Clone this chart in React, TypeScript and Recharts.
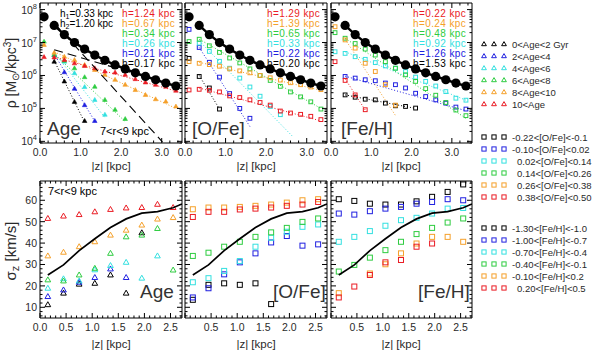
import React from 'react';
import { ScatterChart, Scatter, XAxis, YAxis } from 'recharts';

const FONT = '"Liberation Sans", Arial, Helvetica, sans-serif';
const INK = '#2a2a2a';

const RED = '#ea1c24';
const ORANGE = '#f5a02a';
const GREEN = '#2ecc40';
const CYAN = '#33e0e0';
const BLUE = '#2020e0';
const BLACK = '#000';
// every group below is listed lowest bin first: black, blue, cyan, green, orange, red
const binColors = [BLACK, BLUE, CYAN, GREEN, ORANGE, RED];

// ---------- top row: log10(rho / Msun kpc^-3) against |z| (kpc)
const rhoZ = [0.1, 0.35, 0.6, 0.85, 1.1, 1.35, 1.6, 1.85, 2.1, 2.35, 2.6, 2.85, 3.1, 3.35];
const rhoTotal = [7.78, 7.52, 7.24, 7.0, 6.8, 6.62, 6.46, 6.32, 6.2, 6.08, 5.97, 5.87, 5.77, 5.68];
// two-exponential decomposition of the total (dashed), [z0, v0, z1, v1]
const thinDisc = [0.35, 7.59, 3.02, 3.98];
const thickDisc = [0.35, 6.78, 3.35, 5.69];

const ageRho = [
  [null, 6.42, 5.82, 5.2, 4.62],
  [null, 6.62, 6.1, 5.6, 5.1, 4.62],
  [null, 6.65, 6.42, 6.07, 5.65, 5.26, 4.81],
  [7.03, 6.62, 6.45, 6.22, 5.95, 5.66, 5.26, 4.96, 4.68],
  [6.93, 6.69, 6.57, 6.47, 6.32, 6.17, 6.02, 5.87, 5.72, 5.56, 5.41, 5.28, 5.21, 5.06],
  [6.56, 6.55, 6.47, 6.37, 6.29, 6.22, 6.12, 6.09, 6.02, 5.89, 5.79, 5.72, 5.66, 5.54],
];
const ageRhoFits = [
  [0.35, 6.45, 1.1, 4.58],
  [0.35, 6.65, 1.38, 4.55],
  [0.35, 6.7, 1.6, 4.72],
  [0.35, 6.66, 2.1, 4.6],
  [0.35, 6.72, 3.35, 5.0],
  [0.35, 6.56, 3.35, 5.53],
];
const ageH = ['0.17', '0.21', '0.26', '0.34', '0.67', '1.24'];

const ofeRho = [
  [6.52, 5.97, 5.62, 4.98],
  [7.4, 6.85, 6.4, 5.95, 5.45, 5.0, 4.7],
  [null, 6.98, 6.73, 6.43, 6.22, 5.92, 5.65, 5.37, 5.06, 4.81],
  [7.03, 7.1, 6.9, 6.7, 6.53, 6.38, 6.2, 6.0, 5.85, 5.67, 5.5, 5.35, 5.2, 4.98],
  [6.42, 6.37, 6.33, 6.28, 6.2, 6.14, 6.08, 6.0, 5.93, 5.86, 5.78, 5.72, 5.65, 5.57],
  [5.56, 5.58, 5.55, 5.5, 5.38, 5.33, 5.26, 5.18, 5.1, 4.92, 4.86, 4.82, 4.76, 4.66],
];
const ofeRhoFits = [
  [0.35, 6.0, 0.85, 4.98],
  [0.35, 6.85, 1.6, 4.45],
  [0.35, 7.05, 2.66, 4.14],
  [0.35, 7.1, 3.35, 5.0],
  [0.35, 6.4, 3.35, 5.55],
  [0.35, 5.62, 3.35, 4.62],
];
const ofeH = ['0.20', '0.22', '0.33', '0.65', '1.39', '1.29'];

const fehRho = [
  [null, 5.41, 5.34, 5.28, 5.26, 5.16, 5.08, 5.06, 5.01],
  [null, 5.97, 5.92, 5.87, 5.84, 5.77, 5.72, 5.62, 5.46, 5.36, 5.26, 5.16, 5.04, 4.98],
  [6.72, 6.67, 6.57, 6.49, 6.39, 6.29, 6.22, 6.12, 5.95, 5.82, 5.68, 5.51, 5.31, 5.25],
  [7.3, 7.13, 6.97, 6.8, 6.62, 6.42, 6.22, 6.02, 5.82, 5.6, 5.4, 5.18, 4.95, 4.78],
  [7.48, 7.08, 6.83, 6.37, 6.12, 5.72, 5.1],
  [6.42, 5.85, 5.41, 4.96],
];
const fehRhoFits = [
  [0.35, 5.41, 2.1, 5.0],
  [0.35, 5.98, 3.35, 4.93],
  [0.35, 6.72, 3.35, 5.25],
  [0.35, 7.13, 3.35, 4.7],
  [0.35, 7.1, 1.62, 4.75],
  [0.35, 5.9, 0.85, 4.95],
];
const fehH = ['1.53', '1.26', '0.92', '0.48', '0.24', '0.22'];

// ---------- bottom row: sigma_z (km/s) against |z| (kpc)
const sigZ = [0.15, 0.45, 0.75, 1.05, 1.35, 1.65, 1.95, 2.25, 2.55];
const sigTotalZ = [0.15, 0.45, 0.75, 1.05, 1.35, 1.65, 1.95, 2.25, 2.55, 2.72];
const sigTotal = [25.1, 29.8, 36.5, 42.0, 47.3, 51.3, 54.0, 54.7, 56.5, 58.3];

const ageSigma = [
  [11.2, 16.6, 20.8, 21.2, 25.1, 16.6, 44.8],
  [15.0, 18.1, 21.7, 23.9, 27.9, 23.9],
  [18.9, 23.3, 22.3, 27.5, 29.5, 31.0, 23.6, 34.0],
  [22.8, 22.3, 25.1, 28.2, 35.2, 42.9, 43.7, 46.8, 27.4],
  [34.0, 35.7, 38.3, 40.6, 43.7, 46.0, 48.4, 51.2, 51.9],
  [51.5, 52.6, 53.3, 54.6, 55.7, 56.4, 56.6, 58.1, 56.6],
];
const ofeSigma = [
  [13.5, 20.5, 21.2, 20.5, 21.2, 11.5],
  [14.6, 18.9, 25.4, 31.0, 35.2, 40.3, 43.3, 38.8, 39.4],
  [21.7, 23.6, 27.0, 31.6, 38.3, 42.5, 45.3, 47.6, 48.7],
  [34.0, 35.5, 38.3, 40.6, 42.9, 45.0, 47.1, 49.9, 51.5],
  [55.8, 56.6, 56.6, 56.9, 57.4, 58.0, 58.9, 60.0, 60.5],
  [52.2, 54.6, 54.6, 55.7, 56.1, 56.6, 57.4, 58.0, 59.2],
];
const fehSigma = [
  [60.5, 59.7, 58.4, 58.0, 58.0, 59.5, 61.6, 63.9, 67.4],
  [53.8, 53.3, 54.9, 56.1, 56.9, 58.4, 59.2, 60.5, 60.0],
  [40.6, 42.9, 45.6, 48.1, 50.7, 51.8, 53.8, 56.1, 56.4],
  [26.7, 29.8, 33.2, 36.7, 40.6, 44.2, 47.1, 49.6, 51.5],
  [16.6, null, 25.8, 30.1, 35.2, 39.8, 42.9, 42.9, 40.6],
  [14.6, 19.7, 25.1, 31.0, 32.1, 38.3, 39.8],
];

// ---------- legend text
const ageBins = ['0<Age<2  Gyr', '2<Age<4', '4<Age<6', '6<Age<8', '8<Age<10', '10<Age'];
const ofeBins = ['-0.22<[O/Fe]<-0.1', '-0.10<[O/Fe]<0.02', '0.02<[O/Fe]<0.14', '0.14<[O/Fe]<0.26', '0.26<[O/Fe]<0.38', '0.38<[O/Fe]<0.50'];
const fehBins = ['-1.30<[Fe/H]<-1.0', '-1.00<[Fe/H]<-0.7', '-0.70<[Fe/H]<-0.4', '-0.40<[Fe/H]<-0.1', '-0.10<[Fe/H]<0.2', '0.20<[Fe/H]<0.5'];

// layout
const COL_X = [40, 185, 331];
const COL_W = [142, 142, 141];
const TOP_Y = 3, TOP_H = 140;
const BOT_Y = 181, BOT_H = 137;

const steps = (a: number, b: number, s: number) => {
  const out: number[] = [];
  for (let i = 0; a + i * s <= b + 1e-9; i++) out.push(+(a + i * s).toFixed(4));
  return out;
};
const topXTicks = steps(0, 3.4, 0.2);
const botXTicks = steps(0, 2.7, 0.1);
const botYTicks = steps(6, 68, 2);
const logTicks: number[] = [];
for (let n = 3; n <= 8; n++) {
  for (let k = 1; k <= 9; k++) {
    const t = n + Math.log10(k);
    if (t > 3.95 && t < 8.2) logTicks.push(t);
  }
}

const isMajor = (v: number, step: number) => Math.abs(v / step - Math.round(v / step)) < 1e-4;

function makeTick(side: string, step: number, label: ((v: number) => React.ReactNode) | null) {
  return (props: any) => {
    const { x, y, payload } = props;
    const v = payload.value;
    const major = isMajor(v, step);
    const len = major ? 5 : 2.5;
    let ln = null;
    if (side === 'bottom') ln = <line x1={x} x2={x} y1={y} y2={y - len} stroke="#000" />;
    if (side === 'top') ln = <line x1={x} x2={x} y1={y} y2={y + len} stroke="#000" />;
    if (side === 'left') ln = <line x1={x} x2={x + len} y1={y} y2={y} stroke="#000" />;
    if (side === 'right') ln = <line x1={x} x2={x - len} y1={y} y2={y} stroke="#000" />;
    const txt = major && label ? label(v) : null;
    return (
      <g>
        {ln}
        {txt != null && side === 'bottom' && (
          <text x={x} y={y + 13} textAnchor="middle" fontSize={10.5} fill={INK} fontFamily={FONT}>{txt}</text>
        )}
        {txt != null && side === 'left' && (
          <text x={x - 3} y={y + 4} textAnchor="end" fontSize={10.5} fill={INK} fontFamily={FONT}>{txt}</text>
        )}
      </g>
    );
  };
}

const Empty = () => <g />;
const triangle = (color: string, s: number, filled: boolean) => (p: any) => (
  <polygon points={`${p.cx},${p.cy - s} ${p.cx - s * 0.95},${p.cy + s * 0.65} ${p.cx + s * 0.95},${p.cy + s * 0.65}`}
    fill={filled ? color : 'none'} stroke={color} strokeWidth={filled ? 0.6 : 1} />
);
const square = (color: string, s: number, _filled: boolean) => (p: any) => (
  <rect x={p.cx - s / 2} y={p.cy - s / 2} width={s} height={s} fill="none" stroke={color} strokeWidth={1} />
);
const dot = (p: any) => <circle cx={p.cx} cy={p.cy} r={4.6} fill="#000" />;

type PanelProps = {
  col: number;
  row: 'top' | 'bot';
  xLabel: (v: number) => React.ReactNode;
  yLabel: ((v: number) => React.ReactNode) | null;
  children: React.ReactNode;
};

function Panel({ col, row, xLabel, yLabel, children }: PanelProps) {
  // the axes are 1px thick boxes, so the plot area is exactly COL_W x H
  const m = { top: 3, right: 5, bottom: 29, left: 39 };
  const top = row === 'top';
  const w = COL_W[col];
  const h = top ? TOP_H : BOT_H;
  const xDomain: [number, number] = top ? [0, 3.5] : [0, 2.72];
  const yDomain: [number, number] = top ? [3.95, 8.2] : [5, 69];
  const xTicks = top ? topXTicks : botXTicks;
  const yTicks = top ? logTicks : botYTicks;
  const xStep = top ? 1 : 0.5;
  const yStep = top ? 1 : 10;
  const common = { type: 'number' as const, allowDataOverflow: true, interval: 0 as const, tickSize: 0, tickMargin: 0, tickLine: false, axisLine: { stroke: '#000', strokeWidth: 1 } };
  return (
    <div style={{ position: 'absolute', left: COL_X[col] - m.left - 1, top: (top ? TOP_Y : BOT_Y) - m.top - 1 }}>
      <ScatterChart width={w + m.left + m.right + 2} height={h + m.top + m.bottom + 2} margin={m}>
        <XAxis {...common} xAxisId="b" dataKey="z" orientation="bottom" height={1} domain={xDomain} ticks={xTicks} tick={makeTick('bottom', xStep, xLabel)} />
        <XAxis {...common} xAxisId="t" dataKey="z" orientation="top" height={1} domain={xDomain} ticks={xTicks} tick={makeTick('top', xStep, null)} />
        <YAxis {...common} yAxisId="l" dataKey="v" orientation="left" width={1} domain={yDomain} ticks={yTicks} tick={makeTick('left', yStep, yLabel)} />
        <YAxis {...common} yAxisId="r" dataKey="v" orientation="right" width={1} domain={yDomain} ticks={yTicks} tick={makeTick('right', yStep, null)} />
        {children}
      </ScatterChart>
    </div>
  );
}

const toPts = (zs: number[], vals: (number | null)[]) =>
  vals.map((v, j) => (v == null ? null : { z: zs[j], v })).filter(Boolean) as { z: number; v: number }[];

function segment(key: string, f: number[], color: string, width: number, dash: string) {
  return (
    <Scatter key={key} xAxisId="b" yAxisId="l" data={[{ z: f[0], v: f[1] }, { z: f[2], v: f[3] }]} fill="none"
      line={{ stroke: color, strokeWidth: width, strokeDasharray: dash }} shape={Empty} isAnimationActive={false} />
  );
}

function topSeries(name: string, rows: (number | null)[][], fits: number[][], marker: typeof square, size: number, withDiscs: boolean) {
  const out: React.ReactNode[] = [];
  fits.forEach((f, i) => out.push(segment(`${name}f${i}`, f, binColors[i], 1, '1 2')));
  rows.forEach((r, i) =>
    out.push(<Scatter key={`${name}p${i}`} xAxisId="b" yAxisId="l" data={toPts(rhoZ, r)} fill={binColors[i]} shape={marker(binColors[i], size, true)} isAnimationActive={false} />)
  );
  if (withDiscs) {
    out.push(segment(`${name}thin`, thinDisc, '#000', 1.1, '9 5'));
    out.push(segment(`${name}thick`, thickDisc, '#000', 1.1, '9 5'));
  }
  out.push(
    <Scatter key={`${name}tot`} xAxisId="b" yAxisId="l" data={toPts(rhoZ.slice(1), rhoTotal.slice(1))} fill="none"
      line={{ stroke: '#000', strokeWidth: 2.4 }} shape={Empty} isAnimationActive={false} />
  );
  out.push(<Scatter key={`${name}dots`} xAxisId="b" yAxisId="l" data={toPts(rhoZ, rhoTotal)} fill="#000" shape={dot} isAnimationActive={false} />);
  return out;
}

function botSeries(name: string, rows: (number | null)[][], marker: typeof square, size: number) {
  const out: React.ReactNode[] = [];
  rows.forEach((r, i) =>
    out.push(<Scatter key={`${name}p${i}`} xAxisId="b" yAxisId="l" data={toPts(sigZ, r)} fill={binColors[i]} shape={marker(binColors[i], size, false)} isAnimationActive={false} />)
  );
  out.push(
    <Scatter key={`${name}tot`} xAxisId="b" yAxisId="l" data={toPts(sigTotalZ, sigTotal)} fill="none"
      line={{ stroke: '#000', strokeWidth: 1.7 }} shape={Empty} isAnimationActive={false} />
  );
  return out;
}

const topX = (v: number) => v.toFixed(1);
const botX = (v: number) => v.toFixed(1);
const botXNoZero = (v: number) => (v < 0.01 ? null : v.toFixed(1));
const powLabel = (v: number) => (
  <>
    10<tspan dy={-5} fontSize={7.5}>{Math.round(v)}</tspan>
  </>
);
const sigLabel = (v: number) => String(v);

function HList({ x, values }: { x: number; values: string[] }) {
  // printed from the highest bin (red) down to the lowest (black)
  return (
    <>
      {values.map((h, i) => {
        const row = 5 - i;
        return (
          <text key={h + i} x={x} y={16.5 + row * 10} fontSize={10} fill={binColors[i]} fontFamily={FONT} letterSpacing={0.4}>
            {`h=${h} kpc`}
          </text>
        );
      })}
    </>
  );
}

function LegendGroup({ rows, y0, shape }: { rows: string[]; y0: number; shape: 'tri' | 'sq' }) {
  return (
    <>
      {rows.map((t, i) => {
        const cy = y0 + i * 12;
        const c = binColors[i];
        const marks = [484, 494, 504].map((cx) =>
          shape === 'tri' ? (
            <polygon key={cx} points={`${cx},${cy - 2.4} ${cx - 2.4},${cy + 1.7} ${cx + 2.4},${cy + 1.7}`} fill="none" stroke={c} strokeWidth={1} />
          ) : (
            <rect key={cx} x={cx - 2.1} y={cy - 2.1} width={4.2} height={4.2} fill="none" stroke={c} strokeWidth={1} />
          )
        );
        const tx = t.startsWith('-') || shape === 'tri' ? 512 : 517;
        return (
          <g key={t}>
            {marks}
            <text x={tx} y={cy + 3.5} fontSize={9.5} fill={INK} fontFamily={FONT}>{t}</text>
          </g>
        );
      })}
    </>
  );
}

function Overlay() {
  const big = { fontSize: 19, fill: '#333', fontFamily: FONT };
  const zLab = (cx: number, y: number) => (
    <text x={cx} y={y} textAnchor="middle" fontSize={11.5} fill={INK} fontFamily={FONT}>|z| [kpc]</text>
  );
  return (
    <svg width={600} height={351} style={{ position: 'absolute', left: 0, top: 0, pointerEvents: 'none' }}>
      {/* top-row annotations */}
      <text x={60} y={17} fontSize={10} fill="#000" fontFamily={FONT}>h<tspan dy={2} fontSize={7}>1</tspan><tspan dy={-2}>=0.33 kpc</tspan></text>
      <text x={60} y={27} fontSize={10} fill="#000" fontFamily={FONT}>h<tspan dy={2} fontSize={7}>2</tspan><tspan dy={-2}>=1.20 kpc</tspan></text>
      <HList x={122} values={ageH} />
      <HList x={267} values={ofeH} />
      <HList x={413} values={fehH} />
      <text x={47} y={135} {...big}>Age</text>
      <text x={100} y={135} fontSize={11} fill="#000" fontFamily={FONT}>7&lt;r&lt;9 kpc</text>
      <text x={192} y={135} {...big}>[O/Fe]</text>
      <text x={341} y={135} {...big}>[Fe/H]</text>
      {zLab(111, 170)}
      {zLab(256, 170)}
      {zLab(401, 170)}
      {/* bottom-row annotations */}
      <text x={48} y={195} fontSize={11} fill="#000" fontFamily={FONT}>7&lt;r&lt;9 kpc</text>
      <text x={140} y={298} {...big}>Age</text>
      <text x={273} y={298} {...big}>[O/Fe]</text>
      <text x={418} y={298} {...big}>[Fe/H]</text>
      {zLab(111, 348)}
      {zLab(256, 348)}
      {zLab(401, 348)}
      {/* y titles */}
      <text transform="translate(16,73) rotate(-90)" textAnchor="middle" fontSize={14} fill={INK} fontFamily={FONT}>
        ρ [M<tspan dy={3} fontSize={10}>⊙</tspan><tspan dy={-3}>/kpc</tspan><tspan dy={-5} fontSize={10}>3</tspan><tspan dy={5}>]</tspan>
      </text>
      <text transform="translate(16,251) rotate(-90)" textAnchor="middle" fontSize={15} fill={INK} fontFamily={FONT}>
        σ<tspan dy={3} fontSize={11}>z</tspan><tspan dy={-3}> [km/s]</tspan>
      </text>
      {/* legend */}
      <LegendGroup rows={ageBins} y0={44} shape="tri" />
      <LegendGroup rows={ofeBins} y0={137} shape="sq" />
      <LegendGroup rows={fehBins} y0={228} shape="sq" />
    </svg>
  );
}

export default function App() {
  return (
    <div style={{ position: 'absolute', left: 0, top: 0, width: 600, height: 351, background: '#fff', overflow: 'hidden' }}>
      <Panel col={0} row="top" xLabel={topX} yLabel={powLabel}>
        {topSeries('age', ageRho, ageRhoFits, triangle, 2.4, true)}
      </Panel>
      <Panel col={1} row="top" xLabel={topX} yLabel={null}>
        {topSeries('ofe', ofeRho, ofeRhoFits, square, 3.8, false)}
      </Panel>
      <Panel col={2} row="top" xLabel={topX} yLabel={null}>
        {topSeries('feh', fehRho, fehRhoFits, square, 3.8, false)}
      </Panel>
      <Panel col={0} row="bot" xLabel={botX} yLabel={sigLabel}>
        {botSeries('sage', ageSigma, triangle, 3)}
      </Panel>
      <Panel col={1} row="bot" xLabel={botXNoZero} yLabel={null}>
        {botSeries('sofe', ofeSigma, square, 5)}
      </Panel>
      <Panel col={2} row="bot" xLabel={botXNoZero} yLabel={null}>
        {botSeries('sfeh', fehSigma, square, 5)}
      </Panel>
      <Overlay />
    </div>
  );
}
